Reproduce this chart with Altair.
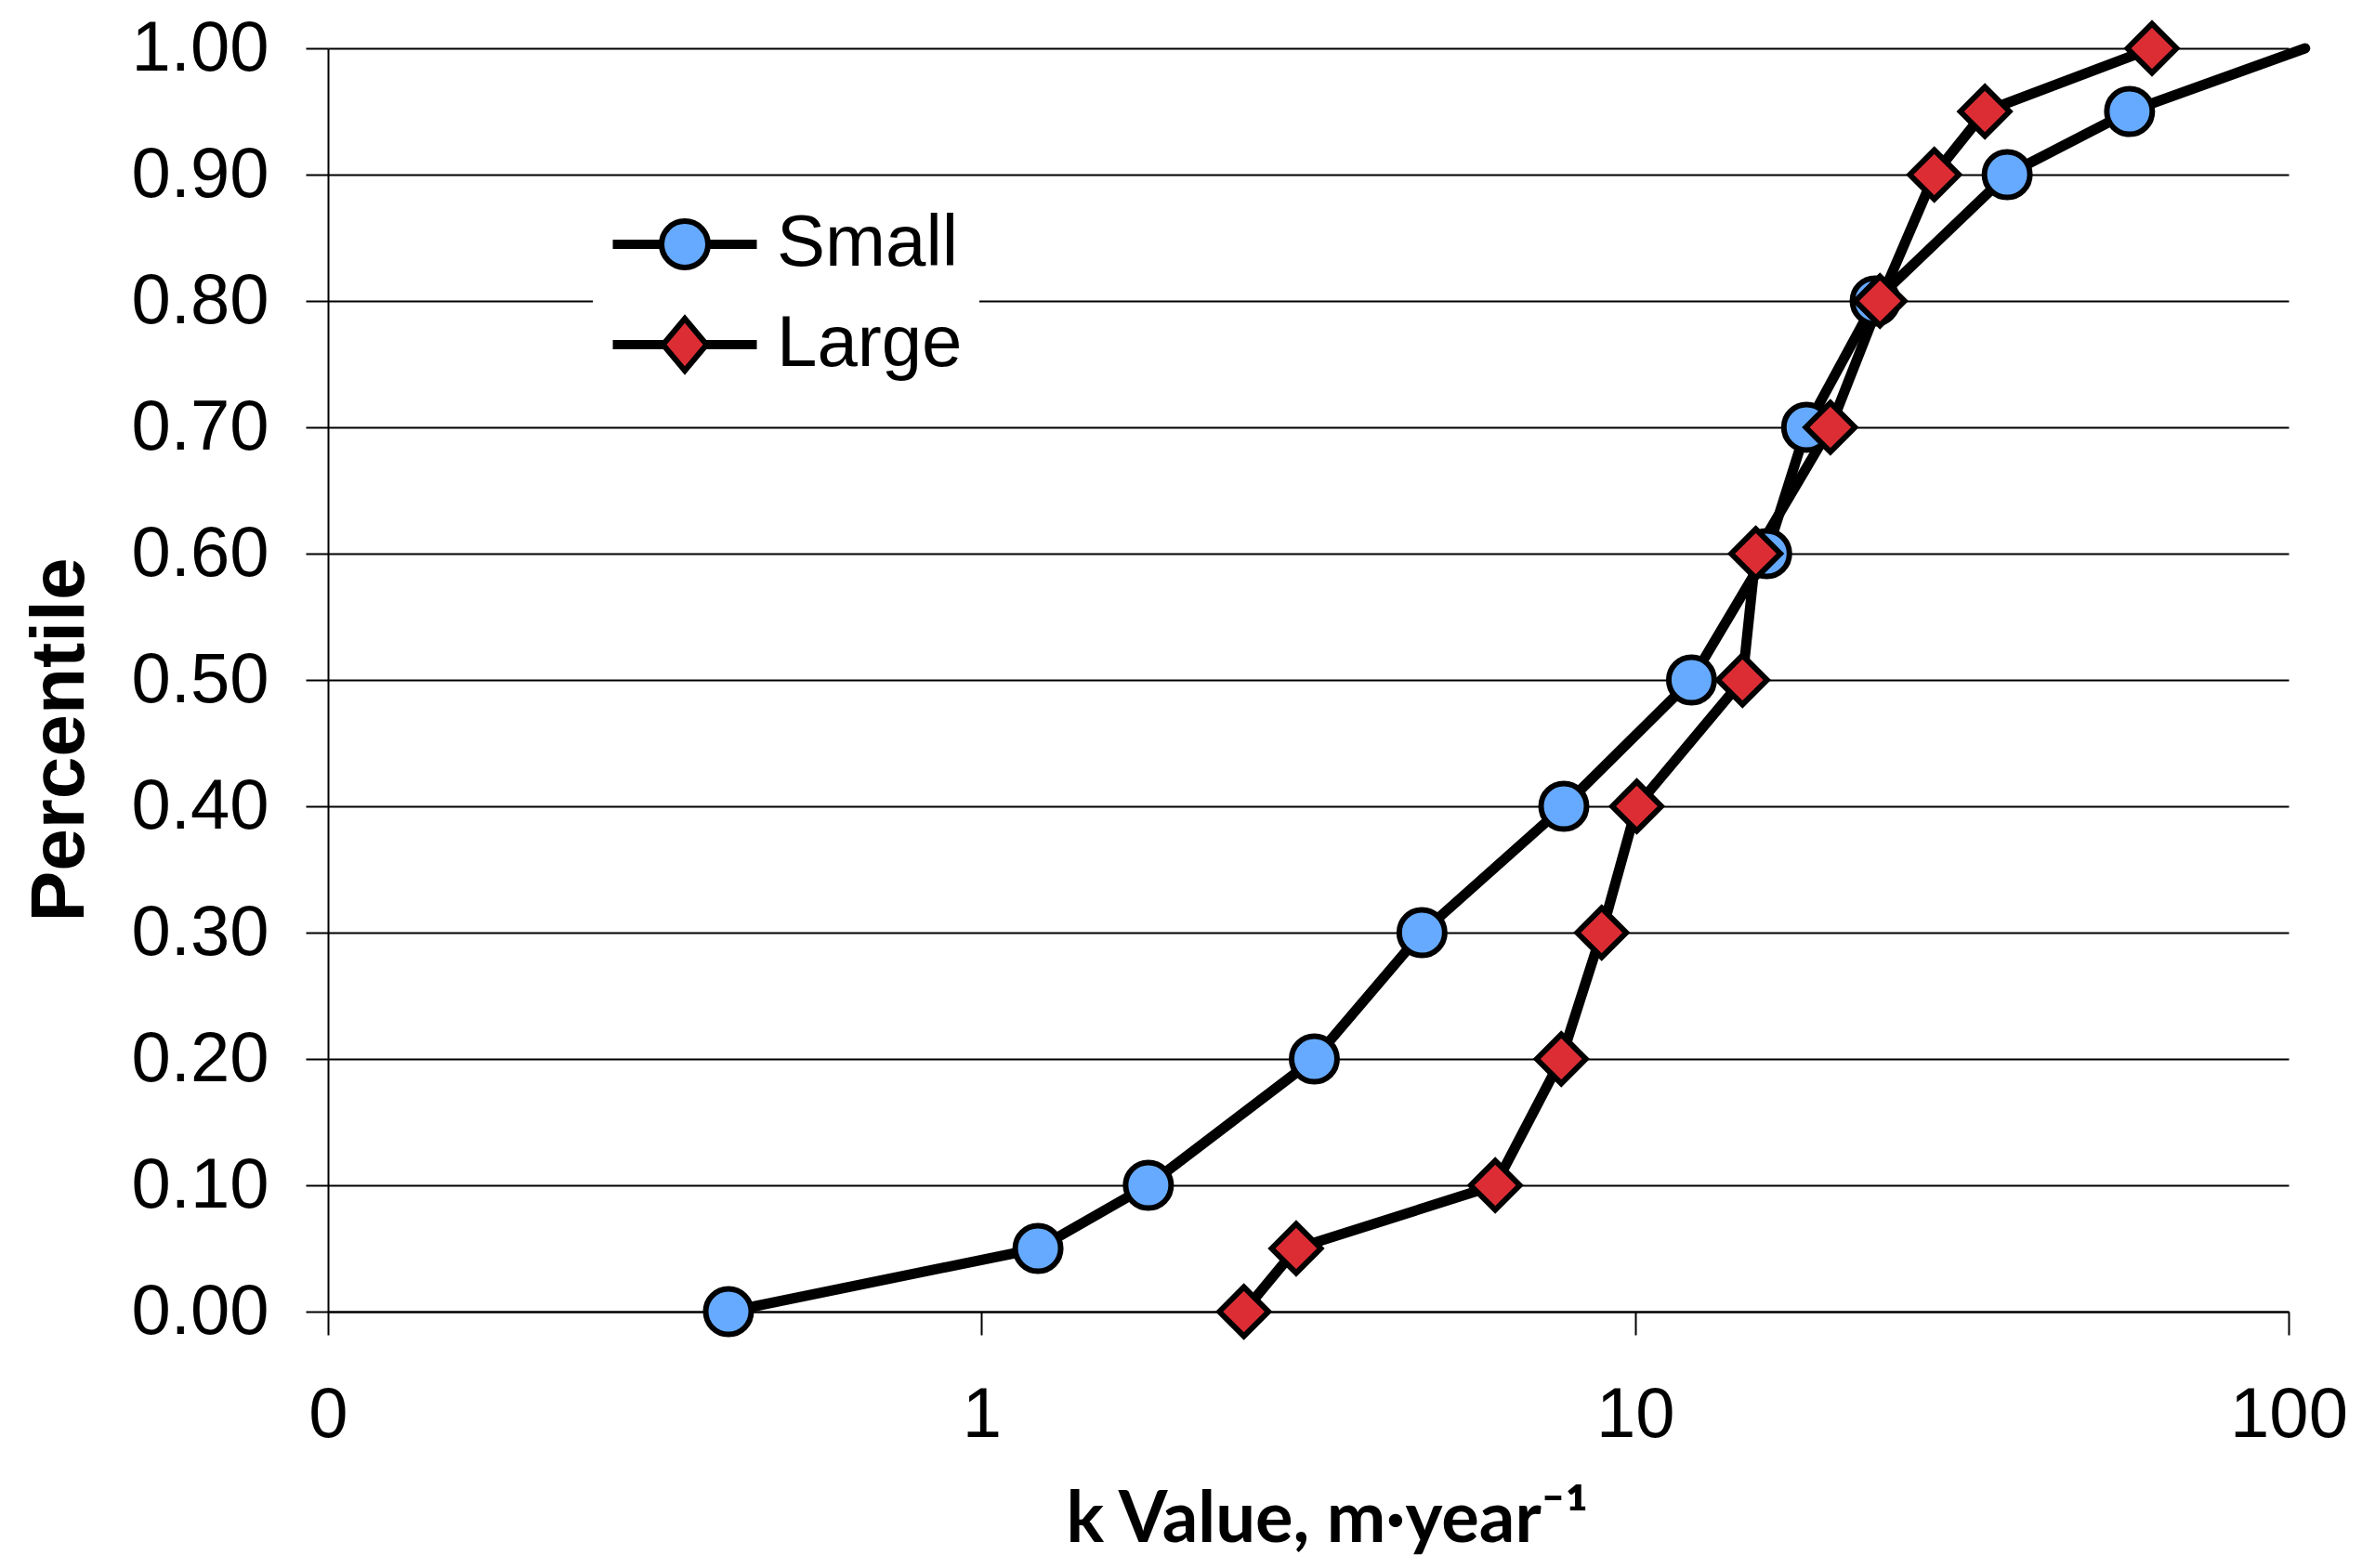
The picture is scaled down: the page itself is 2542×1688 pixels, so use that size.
import altair as alt
import pandas as pd

# ---- data ----
series_names = ["Small", "Large"]
percentiles = [0.00, 0.05, 0.10, 0.20, 0.30, 0.40, 0.50, 0.60, 0.70, 0.80, 0.90, 0.95, 1.00]
k_small = [0.41, 1.22, 1.80, 3.23, 4.72, 7.78, 12.2, 15.9, 18.3, 23.3, 37.1, 57.1, 106.0]
k_large = [2.52, 3.03, 6.11, 7.71, 8.89, 10.06, 14.6, 15.3, 19.9, 23.7, 28.7, 34.3, 61.8]
x_tick_values = [0.1, 1, 10, 100]
y_tick_values = [0.0, 0.1, 0.2, 0.3, 0.4, 0.5, 0.6, 0.7, 0.8, 0.9, 1.0]
marker_shapes = ["circle", "diamond"]
marker_fills = ["#66AAFF", "#DD2D34"]
marker_sizes = [2400, 2800]
x_title = "k Value, m·year⁻¹"
y_title = "Percentile"

# legend symbols: marker with a line stub on each side (unit-scaled SVG paths)
stub = "M-3.1,-0.08H-1M-3.1,0.08H-1M1,-0.08H3.1M1,0.08H3.1"
legend_symbols = [
    "M1,0A1,1,0,1,1,-1,0A1,1,0,1,1,1,0Z" + stub,
    "M0,-1.12L0.94,0L0,1.12L-0.94,0Z" + stub.replace("-1M", "-0.94M").replace("M1,", "M0.94,"),
]

rows = []
for name, ks in zip(series_names, [k_small, k_large]):
    for p, k in zip(percentiles, ks):
        rows.append({"series": name, "k": k, "p": p})
df = pd.DataFrame(rows)

FONT = "Liberation Sans"

x_enc = alt.X(
    "k:Q",
    scale=alt.Scale(type="log", domain=[0.1, 100], nice=False),
    axis=alt.Axis(
        values=x_tick_values, format="d", grid=False, title=x_title,
        labelFont=FONT, labelFontSize=76, labelColor="black", labelPadding=49,
        labelFlush=False, labelOverlap=False,
        tickSize=25, tickWidth=2, tickColor="black",
        domainColor="black", domainWidth=2,
        titleFont="Lato", titleFontSize=76, titleFontWeight="bold", titleColor="black",
        titleX=1075, titleY=247, titleAlign="center", titleBaseline="alphabetic",
    ),
)
y_enc = alt.Y(
    "p:Q",
    scale=alt.Scale(domain=[0, 1], nice=False),
    axis=alt.Axis(
        values=y_tick_values, format=".2f", grid=True, gridColor="black", gridWidth=2,
        title=y_title,
        labelFont=FONT, labelFontSize=76, labelColor="black", labelPadding=40,
        labelFlush=False, labelOverlap=False,
        tickSize=24, tickWidth=2, tickColor="black",
        domainColor="black", domainWidth=2,
        titleFont=FONT, titleFontSize=82, titleFontWeight="bold", titleColor="black",
        titleAngle=270, titleX=-264, titleY=744, titleAlign="center", titleBaseline="alphabetic",
    ),
)

legend = alt.Legend(
    title=None, orient="none", legendX=285, legendY=154, padding=18, fillColor="white",
    symbolSize=2500, symbolStrokeWidth=6, symbolOpacity=1,
    symbolOffset=42, labelOffset=60, rowPadding=29, labelLimit=500,
    labelFont=FONT, labelFontSize=78, labelColor="black", zindex=1,
)

base = alt.Chart(df)

lines = base.mark_line(
    strokeWidth=11, clip=False, strokeJoin="round", strokeCap="round", color="black"
).encode(
    x=x_enc,
    y=y_enc,
    detail="series:N",
    order=alt.Order("p:Q"),
)

layers = [lines]
for name, shp, fill, size in zip(series_names, marker_shapes, marker_fills, marker_sizes):
    layers.append(
        base.transform_filter((alt.datum.series == name) & (alt.datum.k <= 100))
        .mark_point(filled=True, opacity=1, stroke="black", strokeWidth=6,
                    shape=shp, fill=fill, size=size)
        .encode(x=x_enc, y=y_enc)
    )

# legend-only layer (no data rows drawn), its scales give the legend entries
legend_layer = base.transform_filter(alt.datum.p < 0).mark_point(
    filled=True, opacity=1, strokeWidth=6
).encode(
    x=x_enc,
    y=y_enc,
    shape=alt.Shape("series:N", scale=alt.Scale(domain=series_names, range=legend_symbols),
                    legend=legend),
    fill=alt.Fill("series:N", scale=alt.Scale(domain=series_names, range=marker_fills),
                  legend=legend),
    stroke=alt.Stroke("series:N", scale=alt.Scale(domain=series_names, range=["black", "black"]),
                      legend=legend),
)
layers.append(legend_layer)

chart = alt.layer(*layers).properties(
    width=2110, height=1360,
    autosize=alt.AutoSizeParams(type="none"),
    padding={"left": 345, "top": 44, "right": 70, "bottom": 266},
    background="white",
).configure_view(strokeWidth=0)

chart.save("out.html", embed_options={"renderer": "svg", "actions": False})
